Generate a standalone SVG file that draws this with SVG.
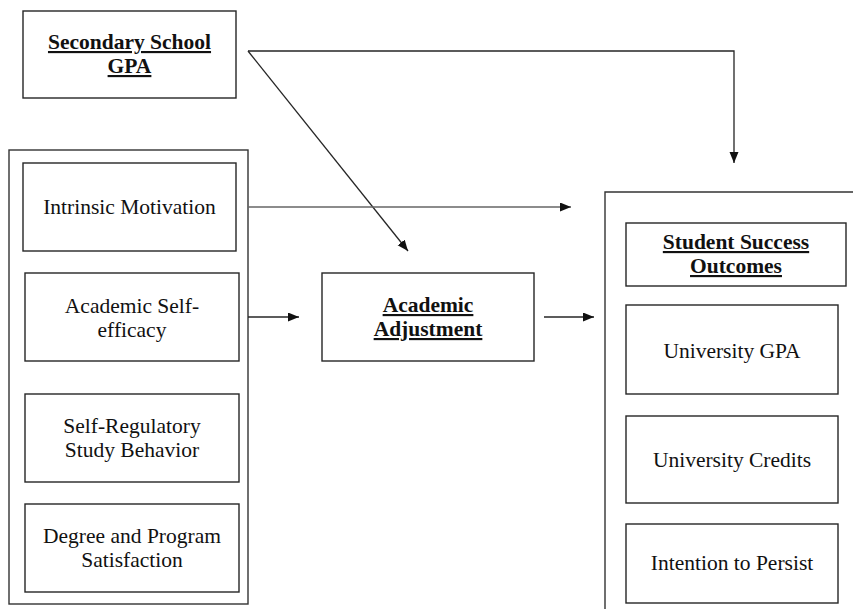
<svg xmlns="http://www.w3.org/2000/svg" width="853" height="609" viewBox="0 0 853 609">
<style>
.box{fill:#fff;stroke:#262626;stroke-width:1.4}
.frame{fill:none;stroke:#333;stroke-width:1.4}
.t{font-family:"Liberation Serif","Times New Roman",serif;font-size:21.5px;fill:#111;text-anchor:middle}
.b{font-weight:bold;text-decoration:underline}
.c{fill:none;stroke:#262626;stroke-width:1.3}
.g{stroke:#666;stroke-width:1.6}
</style>
<defs>
<marker id="ah" markerUnits="userSpaceOnUse" markerWidth="12" markerHeight="10" refX="11" refY="4.5" orient="auto">
<path d="M0,0 L11,4.5 L0,9 Z" fill="#111"/>
</marker>
</defs>
<rect width="853" height="609" fill="#fff"/>
<g id="left-group"><rect class="frame" x="9" y="150" width="239" height="454"/></g>
<g id="outcomes-group"><path class="frame" d="M605,612 V192 H856"/></g>
<g id="secondary-gpa">
<rect class="box" x="23" y="11" width="213" height="87"/>
<text class="t b" x="129.5" y="49">Secondary School</text>
<text class="t b" x="129.5" y="73">GPA</text>
</g>
<g id="intrinsic-motivation">
<rect class="box" x="23" y="163" width="213" height="88"/>
<text class="t" x="129.5" y="214">Intrinsic Motivation</text>
</g>
<g id="academic-self-efficacy">
<rect class="box" x="25" y="273" width="214" height="88"/>
<text class="t" x="132" y="313">Academic Self-</text>
<text class="t" x="132" y="337">efficacy</text>
</g>
<g id="self-regulatory">
<rect class="box" x="25" y="394" width="214" height="88"/>
<text class="t" x="132" y="433">Self-Regulatory</text>
<text class="t" x="132" y="457">Study Behavior</text>
</g>
<g id="degree-satisfaction">
<rect class="box" x="25" y="504" width="214" height="88"/>
<text class="t" x="132" y="543">Degree and Program</text>
<text class="t" x="132" y="567">Satisfaction</text>
</g>
<g id="academic-adjustment">
<rect class="box" x="322" y="273" width="212" height="88"/>
<text class="t b" x="428" y="312">Academic</text>
<text class="t b" x="428" y="336">Adjustment</text>
</g>
<g id="student-success">
<rect class="box" x="626" y="223" width="220" height="63"/>
<text class="t b" x="736" y="249">Student Success</text>
<text class="t b" x="736" y="273">Outcomes</text>
</g>
<g id="university-gpa">
<rect class="box" x="626" y="305" width="212" height="89"/>
<text class="t" x="732" y="358">University GPA</text>
</g>
<g id="university-credits">
<rect class="box" x="626" y="416" width="212" height="87"/>
<text class="t" x="732" y="467">University Credits</text>
</g>
<g id="intention-persist">
<rect class="box" x="626" y="524" width="212" height="79"/>
<text class="t" x="732" y="570">Intention to Persist</text>
</g>
<g id="connectors">
<path class="c" d="M248,51 H734 V163" marker-end="url(#ah)"/>
<path class="c" d="M248,51 L408,251" marker-end="url(#ah)"/>
<path class="c g" d="M248,207 H571" marker-end="url(#ah)"/>
<path class="c" d="M248,317 H299" marker-end="url(#ah)"/>
<path class="c" d="M544,317 H594" marker-end="url(#ah)"/>
</g>
</svg>
